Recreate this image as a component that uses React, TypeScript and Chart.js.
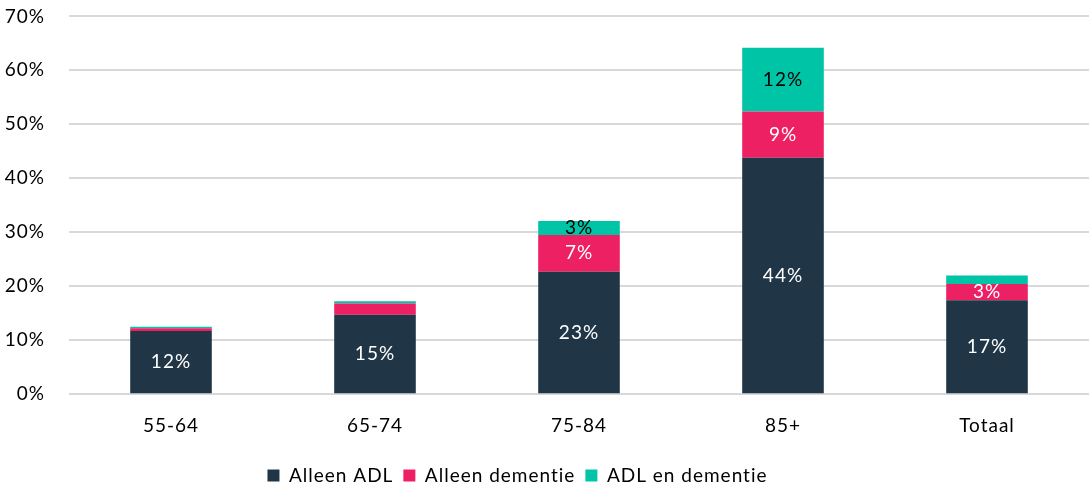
import React, { useEffect, useRef } from "react";
import { Chart, registerables } from "chart.js";

Chart.register(...registerables);

const categories = ["55-64", "65-74", "75-84", "85+", "Totaal"];
const alleenADL = [11.7, 14.7, 22.7, 43.8, 17.4];
const alleenDementie = [0.5, 2.1, 6.8, 8.6, 3.0];
const adlEnDementie = [0.3, 0.4, 2.6, 11.8, 1.6];
const yTicks = [0, 10, 20, 30, 40, 50, 60, 70];

const FONT = "Lato, 'Open Sans', sans-serif";
const FS = 19;

const spacingPlugin = {
  id: "spacing",
  beforeUpdate(chart: any) {
    chart.ctx.letterSpacing = "1px";
  },
  beforeLayout(chart: any) {
    chart.ctx.letterSpacing = "1px";
  },
  afterLayout(chart: any) {
    const l = chart.legend;
    if (l) {
      l.left -= 27;
      l.right -= 27;
    }
  },
  beforeDraw(chart: any) {
    chart.ctx.letterSpacing = "1px";
  },
};

const labelPlugin = {
  id: "segLabels",
  afterDatasetsDraw(chart: any) {
    const ctx = chart.ctx;
    ctx.save();
    ctx.letterSpacing = "1px";
    ctx.font = `${FS}px ${FONT}`;
    ctx.textAlign = "center";
    ctx.textBaseline = "middle";
    chart.data.datasets.forEach((ds: any, di: number) => {
      const meta = chart.getDatasetMeta(di);
      meta.data.forEach((bar: any, i: number) => {
        const v = ds.data[i];
        if (v < 2.5) return;
        const cy = (bar.y + bar.base) / 2;
        ctx.fillStyle = ds.labelColor;
        ctx.fillText(Math.round(v) + "%", bar.x, cy);
      });
    });
    ctx.restore();
  },
};

export default function App() {
  const ref = useRef<HTMLCanvasElement>(null);
  useEffect(() => {
    const chart = new Chart(ref.current!, {
      type: "bar",
      data: {
        labels: categories,
        datasets: [
          { label: "Alleen ADL", data: alleenADL, backgroundColor: "#203647", labelColor: "#ffffff" } as any,
          { label: "Alleen dementie", data: alleenDementie, backgroundColor: "#EE2064", labelColor: "#ffffff" } as any,
          { label: "ADL en dementie", data: adlEnDementie, backgroundColor: "#00C4A6", labelColor: "#000000" } as any,
        ],
      },
      options: {
        animation: false,
        responsive: true,
        maintainAspectRatio: false,
        layout: { padding: { top: 0, right: 3, left: 0, bottom: 12 } },
        datasets: { bar: { categoryPercentage: 1, barPercentage: 0.4 } },
        scales: {
          x: {
            stacked: true,
            grid: { display: false },
            border: { display: false },
            ticks: { color: "#000", font: { family: FONT, size: FS }, padding: 12 },
            afterFit: (axis: any) => {
              axis.height += 7;
            },
          },
          y: {
            stacked: true,
            min: 0,
            max: 70,
            afterBuildTicks: (axis: any) => {
              axis.ticks = yTicks.map((v) => ({ value: v }));
            },
            afterFit: (axis: any) => {
              axis.width = 69;
            },
            grid: { color: "#d9d9d9", lineWidth: 2, drawTicks: false },
            border: { display: false },
            ticks: {
              color: "#000",
              font: { family: FONT, size: FS },
              padding: 24,
              callback: (v: any) => v + "%",
            },
          },
        },
        plugins: {
          legend: {
            position: "bottom",
            labels: {
              color: "#000",
              font: { family: FONT, size: FS },
              boxWidth: 12,
              boxHeight: 12,
              padding: 10,
            },
          },
          tooltip: { enabled: false },
        },
      },
      plugins: [spacingPlugin, labelPlugin],
    });
    return () => chart.destroy();
  }, []);
  return (
    <div style={{ position: "fixed", left: 0, top: -19, width: 1092, height: 526 }}>
      <canvas ref={ref} />
    </div>
  );
}
